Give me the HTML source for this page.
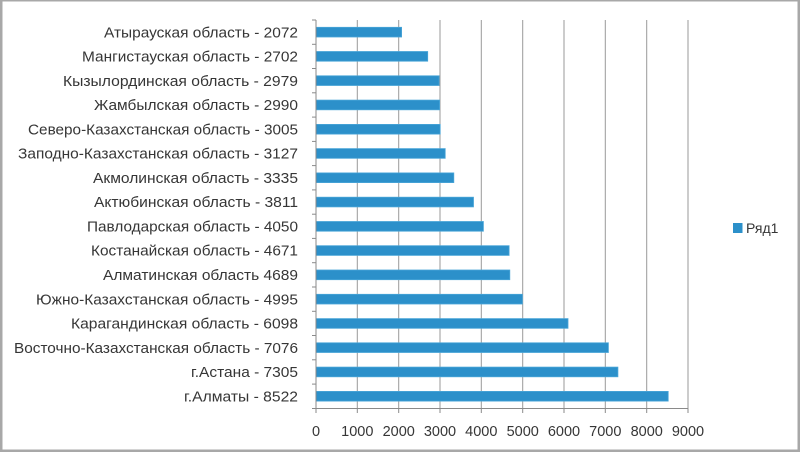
<!DOCTYPE html>
<html>
<head>
<meta charset="utf-8">
<style>
html,body{margin:0;padding:0;background:#fff;}
svg{display:block;}
text{font-family:"Liberation Sans","DejaVu Sans",sans-serif;fill:#363636;}
</style>
</head>
<body>
<svg width="800" height="452" viewBox="0 0 800 452" xmlns="http://www.w3.org/2000/svg">
<rect x="0" y="0" width="800" height="452" fill="#ffffff"/>
<!-- border -->
<rect x="0" y="0" width="800" height="1.5" fill="#a8a8a8"/>
<rect x="0" y="0" width="2.5" height="452" fill="#a8a8a8"/>
<rect x="797.5" y="0" width="2.5" height="452" fill="#a8a8a8"/>
<rect x="0" y="449.5" width="800" height="2.5" fill="#a8a8a8"/>

<!-- gridlines -->
<g stroke="#9a9a9a" stroke-width="1">
<line x1="357.3" y1="20" x2="357.3" y2="408.5"/>
<line x1="398.7" y1="20" x2="398.7" y2="408.5"/>
<line x1="440" y1="20" x2="440" y2="408.5"/>
<line x1="481.3" y1="20" x2="481.3" y2="408.5"/>
<line x1="522.7" y1="20" x2="522.7" y2="408.5"/>
<line x1="564" y1="20" x2="564" y2="408.5"/>
<line x1="605.3" y1="20" x2="605.3" y2="408.5"/>
<line x1="646.7" y1="20" x2="646.7" y2="408.5"/>
<line x1="688" y1="20" x2="688" y2="408.5"/>
</g>

<!-- bars -->
<g fill="#2c90ca" stroke="#4aa6d8" stroke-width="0.8">
<rect x="316" y="27.3" width="85.6" height="9.7"/>
<rect x="316" y="51.5" width="111.7" height="9.7"/>
<rect x="316" y="75.8" width="123.1" height="9.7"/>
<rect x="316" y="100.1" width="123.6" height="9.7"/>
<rect x="316" y="124.4" width="124.2" height="9.7"/>
<rect x="316" y="148.6" width="129.2" height="9.7"/>
<rect x="316" y="172.9" width="137.8" height="9.7"/>
<rect x="316" y="197.2" width="157.5" height="9.7"/>
<rect x="316" y="221.5" width="167.4" height="9.7"/>
<rect x="316" y="245.7" width="193.1" height="9.7"/>
<rect x="316" y="270" width="193.8" height="9.7"/>
<rect x="316" y="294.3" width="206.4" height="9.7"/>
<rect x="316" y="318.6" width="252" height="9.7"/>
<rect x="316" y="342.8" width="292.4" height="9.7"/>
<rect x="316" y="367.1" width="301.9" height="9.7"/>
<rect x="316" y="391.4" width="352.2" height="9.7"/>
</g>

<!-- axes -->
<g stroke="#8a8a8a" stroke-width="1">
<line x1="316" y1="20" x2="316" y2="408.5"/>
<line x1="316" y1="408.5" x2="688" y2="408.5"/>
<line x1="312" y1="20" x2="316" y2="20"/>
<line x1="312" y1="44.3" x2="316" y2="44.3"/>
<line x1="312" y1="68.5" x2="316" y2="68.5"/>
<line x1="312" y1="92.8" x2="316" y2="92.8"/>
<line x1="312" y1="117.1" x2="316" y2="117.1"/>
<line x1="312" y1="141.4" x2="316" y2="141.4"/>
<line x1="312" y1="165.6" x2="316" y2="165.6"/>
<line x1="312" y1="189.9" x2="316" y2="189.9"/>
<line x1="312" y1="214.2" x2="316" y2="214.2"/>
<line x1="312" y1="238.4" x2="316" y2="238.4"/>
<line x1="312" y1="262.7" x2="316" y2="262.7"/>
<line x1="312" y1="287" x2="316" y2="287"/>
<line x1="312" y1="311.3" x2="316" y2="311.3"/>
<line x1="312" y1="335.5" x2="316" y2="335.5"/>
<line x1="312" y1="359.8" x2="316" y2="359.8"/>
<line x1="312" y1="384.1" x2="316" y2="384.1"/>
<line x1="312" y1="408.5" x2="316" y2="408.5"/>
<line x1="316" y1="408.5" x2="316" y2="413"/>
<line x1="357.3" y1="408.5" x2="357.3" y2="413"/>
<line x1="398.7" y1="408.5" x2="398.7" y2="413"/>
<line x1="440" y1="408.5" x2="440" y2="413"/>
<line x1="481.3" y1="408.5" x2="481.3" y2="413"/>
<line x1="522.7" y1="408.5" x2="522.7" y2="413"/>
<line x1="564" y1="408.5" x2="564" y2="413"/>
<line x1="605.3" y1="408.5" x2="605.3" y2="413"/>
<line x1="646.7" y1="408.5" x2="646.7" y2="413"/>
<line x1="688" y1="408.5" x2="688" y2="413"/>
</g>

<!-- category labels -->
<g font-size="14.5">
<text x="104" y="37.3" textLength="194" lengthAdjust="spacingAndGlyphs">Атырауская область - 2072</text>
<text x="82" y="61.5" textLength="216" lengthAdjust="spacingAndGlyphs">Мангистауская область - 2702</text>
<text x="63" y="85.8" textLength="235" lengthAdjust="spacingAndGlyphs">Кызылординская область - 2979</text>
<text x="94" y="110.1" textLength="204" lengthAdjust="spacingAndGlyphs">Жамбылская область - 2990</text>
<text x="28" y="134.4" textLength="270" lengthAdjust="spacingAndGlyphs">Северо-Казахстанская область - 3005</text>
<text x="18" y="158.6" textLength="280" lengthAdjust="spacingAndGlyphs">Заподно-Казахстанская область - 3127</text>
<text x="93" y="182.9" textLength="205" lengthAdjust="spacingAndGlyphs">Акмолинская область - 3335</text>
<text x="94" y="207.2" textLength="204" lengthAdjust="spacingAndGlyphs">Актюбинская область - 3811</text>
<text x="87" y="231.5" textLength="211" lengthAdjust="spacingAndGlyphs">Павлодарская область - 4050</text>
<text x="91" y="255.7" textLength="207" lengthAdjust="spacingAndGlyphs">Костанайская область - 4671</text>
<text x="103" y="280" textLength="195" lengthAdjust="spacingAndGlyphs">Алматинская область 4689</text>
<text x="36" y="304.3" textLength="262" lengthAdjust="spacingAndGlyphs">Южно-Казахстанская область - 4995</text>
<text x="71" y="328.6" textLength="227" lengthAdjust="spacingAndGlyphs">Карагандинская область - 6098</text>
<text x="14" y="352.8" textLength="284" lengthAdjust="spacingAndGlyphs">Восточно-Казахстанская область - 7076</text>
<text x="191" y="377.1" textLength="107" lengthAdjust="spacingAndGlyphs">г.Астана - 7305</text>
<text x="184" y="401.4" textLength="114" lengthAdjust="spacingAndGlyphs">г.Алматы - 8522</text>
</g>

<!-- x tick labels -->
<g font-size="14.5" text-anchor="middle">
<text x="316" y="436">0</text>
<text x="357.3" y="436">1000</text>
<text x="398.7" y="436">2000</text>
<text x="440" y="436">3000</text>
<text x="481.3" y="436">4000</text>
<text x="522.7" y="436">5000</text>
<text x="564" y="436">6000</text>
<text x="605.3" y="436">7000</text>
<text x="646.7" y="436">8000</text>
<text x="688" y="436">9000</text>
</g>

<!-- legend -->
<rect x="733" y="223" width="9.5" height="10" fill="#2c90ca"/>
<text x="746" y="233" font-size="14">Ряд1</text>
</svg>
</body>
</html>
